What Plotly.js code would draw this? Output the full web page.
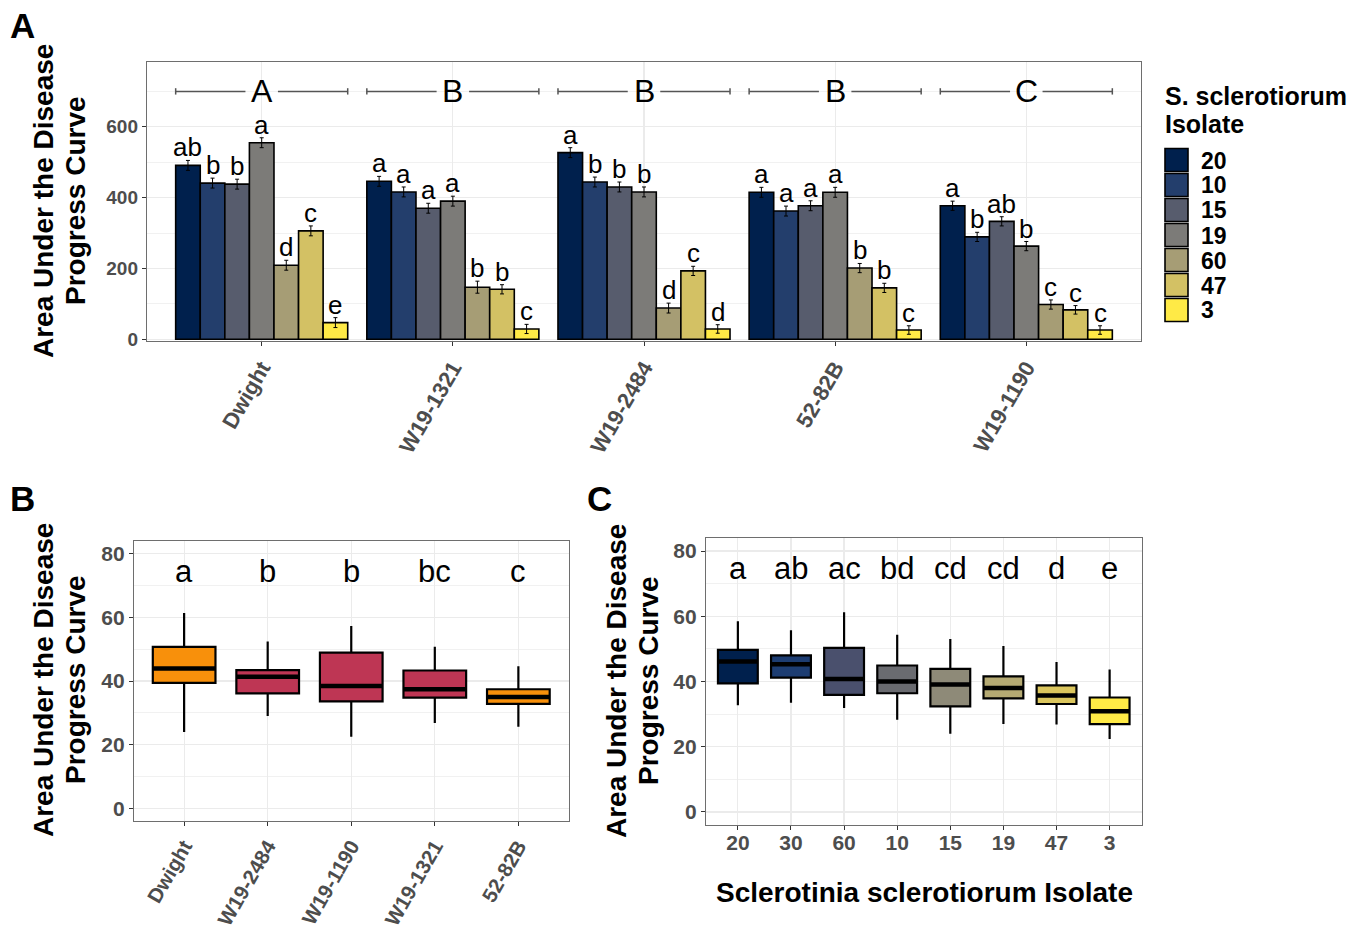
<!DOCTYPE html>
<html><head><meta charset="utf-8">
<script src="https://cdn.plot.ly/plotly-3.0.1.min.js"></script>
<style>html,body{margin:0;padding:0;background:#fff}</style>
</head><body><div id="chart" style="width:1366px;height:936px"></div>
<script>
// ---------- Panel A data ----------
const cultivarsA = ['Dwight', 'W19-1321', 'W19-2484', '52-82B', 'W19-1190'];
const isolatesA = ['20', '10', '15', '19', '60', '47', '3'];
const colorsA = ['#00204D', '#233E6C', '#575C6D', '#7C7B78', '#A69D75', '#D3C164', '#FFEA46'];
const auc20 = [491, 446, 527, 415, 377];
const auc10 = [441, 416, 444, 362, 289];
const auc15 = [438, 370, 430, 377, 333];
const auc19 = [555, 390, 416, 415, 263];
const auc60 = [209, 147, 88, 201, 98];
const auc47 = [306, 141, 193, 145, 83];
const auc3 = [47, 29, 29, 26, 26];
const se20 = [14, 14, 14, 14, 13];
const se10 = [14, 14, 14, 14, 13];
const se15 = [14, 14, 14, 14, 13];
const se19 = [14, 14, 14, 14, 13];
const se60 = [14, 17, 14, 13, 13];
const se47 = [14, 13, 13, 13, 12];
const se3 = [14, 13, 12, 12, 12];
const let20 = ['ab', 'a', 'a', 'a', 'a'];
const let10 = ['b', 'a', 'b', 'a', 'b'];
const let15 = ['b', 'a', 'b', 'a', 'ab'];
const let19 = ['a', 'a', 'b', 'a', 'b'];
const let60 = ['d', 'b', 'd', 'b', 'c'];
const let47 = ['c', 'b', 'c', 'b', 'c'];
const let3 = ['e', 'c', 'd', 'c', 'c'];
const groupLetters = ['A', 'B', 'B', 'B', 'C'];
const bracketY = 700;

// ---------- Panel B data ----------
const cultivarsB = ['Dwight', 'W19-2484', 'W19-1190', 'W19-1321', '52-82B'];
const bLow = [24.0, 29.0, 22.5, 26.8, 25.6];
const bQ1 = [39.4, 36.1, 33.6, 34.8, 32.8];
const bMed = [43.9, 41.3, 38.4, 37.4, 35.0];
const bQ3 = [50.7, 43.4, 48.9, 43.3, 37.4];
const bHigh = [61.4, 52.4, 57.3, 50.8, 44.6];
const bLetters = ['a', 'b', 'b', 'bc', 'c'];
const bColors = ['#F8900B', '#BE3654', '#BE3654', '#BE3654', '#F8900B'];

// ---------- Panel C data ----------
const isolatesC = ['20', '30', '60', '10', '15', '19', '47', '3'];
const cLow = [32.7, 33.5, 31.9, 28.3, 24.0, 27.0, 26.8, 22.4];
const cQ1 = [39.4, 41.2, 35.9, 36.4, 32.4, 34.8, 33.1, 26.9];
const cMed = [46.1, 45.3, 40.8, 40.0, 39.1, 38.0, 35.7, 30.9];
const cQ3 = [49.7, 48.0, 50.3, 44.9, 43.9, 41.6, 38.8, 35.1];
const cHigh = [58.5, 55.7, 61.2, 54.3, 53.0, 50.9, 46.0, 43.7];
const cLetters = ['a', 'ab', 'ac', 'bd', 'cd', 'cd', 'd', 'e'];
const cColors = ['#00204D', '#1D3D72', '#4A506D', '#6A6B70', '#8E8A78', '#B5AA73', '#DBC65E', '#FFEA46'];

const letterY = 74.5;

// ---------- helpers ----------
const W = 1366, H = 936;
const px = p => p / W;
const py = p => 1 - p / H;
const FONT = 'Liberation Sans, Arial, Helvetica, sans-serif';

const aucA = [auc20, auc10, auc15, auc19, auc60, auc47, auc3];
const seA = [se20, se10, se15, se19, se60, se47, se3];
const letA = [let20, let10, let15, let19, let60, let47, let3];

const traces = [];
const annotations = [];
const shapes = [];

// Panel A bars
const nIso = isolatesA.length;
const groupWidth = 0.9;
const barW = groupWidth / nIso;
isolatesA.forEach((iso, j) => {
  traces.push({
    type: 'bar', x: cultivarsA, y: aucA[j], name: iso,
    xaxis: 'x', yaxis: 'y', showlegend: false,
    marker: {color: colorsA[j], line: {color: '#000', width: 1.6}},
    error_y: {type: 'data', array: seA[j], visible: true, color: '#000', thickness: 1, width: 2},
    hoverinfo: 'skip'
  });
  cultivarsA.forEach((c, i) => {
    annotations.push({
      xref: 'x', yref: 'y', x: i + (j - (nIso - 1) / 2) * barW, y: aucA[j][i] + seA[j][i],
      text: letA[j][i], showarrow: false, xanchor: 'center', yanchor: 'bottom', yshift: -4,
      font: {family: FONT, size: 26, color: '#000'}
    });
  });
});

// Panel A group brackets
const half = groupWidth / 2, gapHalf = 0.085;
groupLetters.forEach((g, i) => {
  const lineStyle = {color: '#555', width: 1.5};
  shapes.push({type: 'line', xref: 'x', yref: 'y', x0: i - half, x1: i - gapHalf, y0: bracketY, y1: bracketY, line: lineStyle});
  shapes.push({type: 'line', xref: 'x', yref: 'y', x0: i + gapHalf, x1: i + half, y0: bracketY, y1: bracketY, line: lineStyle});
  shapes.push({type: 'line', xref: 'x', yref: 'y', x0: i - half, x1: i - half, y0: bracketY - 9, y1: bracketY + 9, line: lineStyle});
  shapes.push({type: 'line', xref: 'x', yref: 'y', x0: i + half, x1: i + half, y0: bracketY - 9, y1: bracketY + 9, line: lineStyle});
  annotations.push({
    xref: 'x', yref: 'y', x: i, y: bracketY, text: g, showarrow: false,
    xanchor: 'center', yanchor: 'middle', font: {family: FONT, size: 32, color: '#000'}
  });
});

// Box helper
function addBox(xa, ya, cat, lo, q1, med, q3, hi, color) {
  traces.push({
    type: 'box', xaxis: xa, yaxis: ya, x: [cat], q1: [q1], median: [med], q3: [q3],
    lowerfence: [lo], upperfence: [hi], width: 0.75, whiskerwidth: 0,
    fillcolor: color, line: {color: '#000', width: 2.2}, showlegend: false, hoverinfo: 'skip', boxpoints: false
  });
  traces.push({
    type: 'box', xaxis: xa, yaxis: ya, x: [cat], q1: [med], median: [med], q3: [med],
    lowerfence: [med], upperfence: [med], width: 0.75, whiskerwidth: 0,
    fillcolor: 'rgba(0,0,0,0)', line: {color: '#000', width: 4.5}, showlegend: false, hoverinfo: 'skip', boxpoints: false
  });
}

cultivarsB.forEach((c, i) => {
  addBox('x2', 'y2', c, bLow[i], bQ1[i], bMed[i], bQ3[i], bHigh[i], bColors[i]);
  annotations.push({xref: 'x2', yref: 'y2', x: i, y: letterY, text: bLetters[i], showarrow: false,
    xanchor: 'center', yanchor: 'middle', font: {family: FONT, size: 31, color: '#000'}});
});
isolatesC.forEach((c, i) => {
  addBox('x3', 'y3', c, cLow[i], cQ1[i], cMed[i], cQ3[i], cHigh[i], cColors[i]);
  annotations.push({xref: 'x3', yref: 'y3', x: i, y: letterY, text: cLetters[i], showarrow: false,
    xanchor: 'center', yanchor: 'middle', font: {family: FONT, size: 31, color: '#000'}});
});

// Custom legend for panel A
const legTitle = ['S. sclerotiorum', 'Isolate'];
legTitle.forEach((t, k) => {
  annotations.push({xref: 'paper', yref: 'paper', x: px(1163), y: py(96 + 28 * k), xanchor: 'left', yanchor: 'middle',
    text: t, showarrow: false, font: {family: FONT, size: 25, color: '#000', weight: 'bold'}});
});
isolatesA.forEach((iso, j) => {
  const top = 148.5 + 25 * j;
  shapes.push({type: 'rect', xref: 'paper', yref: 'paper', x0: px(1165), x1: px(1188), y0: py(top), y1: py(top + 23),
    fillcolor: colorsA[j], line: {color: '#000', width: 1.6}});
  annotations.push({xref: 'paper', yref: 'paper', x: px(1199), y: py(top + 12), xanchor: 'left', yanchor: 'middle',
    text: iso, showarrow: false, font: {family: FONT, size: 23, color: '#000', weight: 'bold'}});
});

// Panel letters
[['A', 8, 4], ['B', 8, 477], ['C', 585, 477]].forEach(([t, x, y]) => {
  annotations.push({xref: 'paper', yref: 'paper', x: px(x), y: py(y), xanchor: 'left', yanchor: 'top', text: t,
    showarrow: false, font: {family: FONT, size: 35, color: '#000', weight: 'bold'}});
});

// Axis titles as annotations (two lines each, placed separately)
const yTitleLines = ['Area Under the Disease', 'Progress Curve'];
[[43, 201], [43, 680], [616, 681]].forEach(([x, y]) => {
  yTitleLines.forEach((t, k) => {
    annotations.push({xref: 'paper', yref: 'paper', x: px(x + 32 * k), y: py(y), xanchor: 'center', yanchor: 'middle',
      text: t, textangle: -90, showarrow: false, font: {family: FONT, size: 28, color: '#000', weight: 'bold'}});
  });
});
annotations.push({xref: 'paper', yref: 'paper', x: px(924), y: py(892), xanchor: 'center', yanchor: 'middle',
  text: 'Sclerotinia sclerotiorum Isolate', showarrow: false, font: {family: FONT, size: 28, color: '#000', weight: 'bold'}});

// Axes
const tickFont = s => ({family: FONT, size: s, color: '#4D4D4D', weight: 'bold'});
const baseAxis = {
  showline: true, mirror: true, linecolor: '#6E6E6E', linewidth: 1.2,
  ticks: 'outside', ticklen: 4, tickcolor: '#333', tickwidth: 1,
  showgrid: true, gridcolor: '#EBEBEB', gridwidth: 1.2, zeroline: false, fixedrange: true
};
const layout = {
  width: W, height: H, margin: {l: 0, r: 0, t: 0, b: 0},
  paper_bgcolor: '#fff', plot_bgcolor: '#fff', showlegend: false,
  barmode: 'group', bargap: 0.1, bargroupgap: 0, boxmode: 'overlay',
  font: {family: FONT},
  xaxis: Object.assign({}, baseAxis, {domain: [px(147), px(1141)], anchor: 'y', type: 'category',
    categoryorder: 'array', categoryarray: cultivarsA, range: [-0.6, 4.6], tickangle: -60, tickfont: tickFont(22)}),
  yaxis: Object.assign({}, baseAxis, {domain: [py(341), py(62)], anchor: 'x', range: [-5, 783], dtick: 200, tick0: 0,
    tickfont: tickFont(19), minor: {dtick: 100, showgrid: true, gridcolor: '#F1F1F1', gridwidth: 1}}),
  xaxis2: Object.assign({}, baseAxis, {domain: [px(134), px(568.5)], anchor: 'y2', type: 'category',
    categoryorder: 'array', categoryarray: cultivarsB, range: [-0.6, 4.6], tickangle: -60, tickfont: tickFont(20.5)}),
  yaxis2: Object.assign({}, baseAxis, {domain: [py(821), py(541)], anchor: 'x2', range: [-4, 84], dtick: 20, tick0: 0,
    tickfont: tickFont(21), minor: {dtick: 10, showgrid: true, gridcolor: '#F1F1F1', gridwidth: 1}}),
  xaxis3: Object.assign({}, baseAxis, {domain: [px(706), px(1141.5)], anchor: 'y3', type: 'category',
    categoryorder: 'array', categoryarray: isolatesC, range: [-0.6, 7.6], tickangle: 0, tickfont: tickFont(21),
    ticklabelstandoff: -5}),
  yaxis3: Object.assign({}, baseAxis, {domain: [py(825), py(538)], anchor: 'x3', range: [-4, 84], dtick: 20, tick0: 0,
    tickfont: tickFont(21), minor: {dtick: 10, showgrid: true, gridcolor: '#F1F1F1', gridwidth: 1}}),
  annotations: annotations,
  shapes: shapes
};

Plotly.newPlot('chart', traces, layout, {displayModeBar: false, staticPlot: true});
</script>
</body></html>
